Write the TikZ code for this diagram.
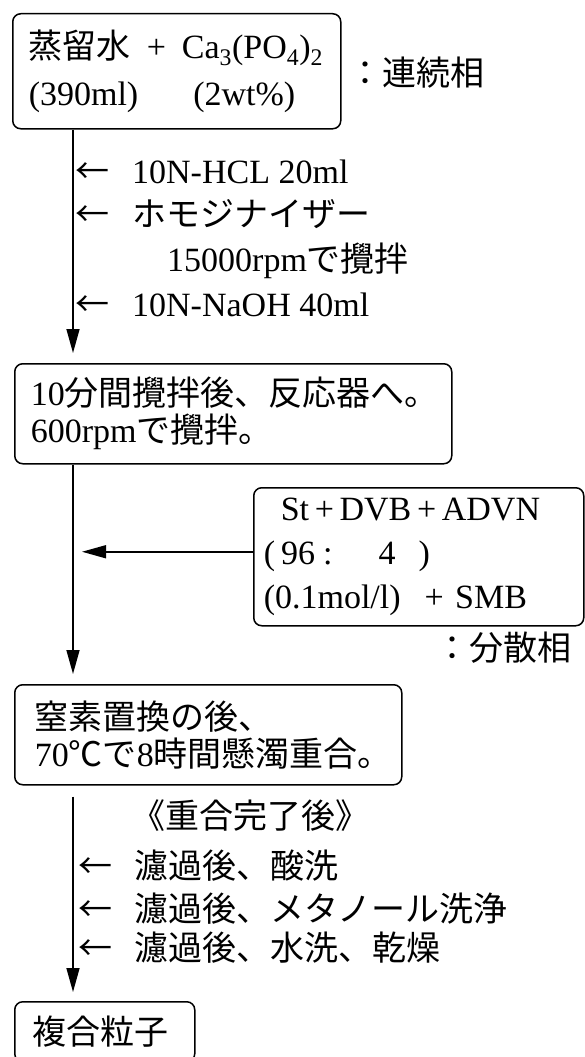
\documentclass[tikz,border=0pt]{standalone}
\usepackage{fontspec}
\setmainfont{Liberation Serif}
\newfontfamily\jpfont{Noto Sans CJK JP}
\newcommand{\jtext}[1]{{\jpfont #1}}
\usepackage{tikz}
\usetikzlibrary{arrows.meta}

\begin{document}
\begin{tikzpicture}[x=1pt, y=-1pt,
    stage/.style={draw=black, line width=1.5pt, rounded corners=8pt,
      anchor=north west, align=left, inner ysep=0pt},
    flow/.style={line width=1.5pt, -{Triangle[length=24pt, width=13pt]}},
    note/.style={anchor=base west, inner sep=0pt, font=\fontsize{34}{40}\selectfont}]
  \useasboundingbox (0,0) rectangle (584,1057);
  \coordinate (spine) at (73,0);

  \node[stage, minimum width=328pt, minimum height=115pt, text width=296pt, inner xsep=16pt,
        font=\fontsize{34}{47}\selectfont] (b1) at (12,13)
    {\mbox{\jtext{蒸留水}\hspace{16pt}+\hspace{16pt}Ca\textsubscript{3}(PO\textsubscript{4})\textsubscript{2}}\\
     \mbox{(390ml)\hspace{55pt}(2wt\%)}};
  \node[note] (cont) at (348,85) {\jtext{：連続相}};

  \node[note] (hcl) at (75,183) {\jtext{←}\hspace{23pt}10N-HCL 20ml};
  \node[note] (homo) at (75,226) {\jtext{←}\hspace{23pt}\jtext{ホモジナイザー}};
  \node[note] (rpm) at (167,271) {15000rpm\jtext{で攪拌}};
  \node[note] (naoh) at (75,316) {\jtext{←}\hspace{23pt}10N-NaOH 40ml};

  \node[stage, minimum width=437pt, minimum height=100pt, text width=405pt, inner xsep=16pt,
        font=\fontsize{34}{37}\selectfont] (b2) at (14,363)
    {10\jtext{分間攪拌後、反応器へ。}\\600rpm\jtext{で攪拌。}};

  \node[stage, minimum width=330pt, minimum height=138pt, text width=310pt, inner xsep=10pt,
        font=\fontsize{34}{44}\selectfont] (b3) at (253,487)
    {\hspace*{17pt}St\,+\,DVB\,+\,ADVN\\
     (\hspace{6pt}96\hspace{8pt}:\hspace{46pt}4\hspace{23pt})\\
     (0.1mol/l)\hspace{24pt}+ SMB};
  \node[note] (disp) at (435,660) {\jtext{：分散相}};

  \node[stage, minimum width=387pt, minimum height=100pt, text width=347pt, inner xsep=20pt,
        font=\fontsize{34}{37}\selectfont] (b4) at (14,684)
    {\jtext{窒素置換の後、}\\70\jtext{℃で}8\jtext{時間懸濁重合。}};

  \node[note] (done) at (131,828) {\jtext{《重合完了後》}};
  \node[note] (acid) at (78,878) {\jtext{←}\hspace{22pt}\jtext{濾過後、酸洗}};
  \node[note] (meoh) at (78,921) {\jtext{←}\hspace{22pt}\jtext{濾過後、メタノール洗浄}};
  \node[note] (dry) at (78,960) {\jtext{←}\hspace{22pt}\jtext{濾過後、水洗、乾燥}};

  \node[stage, minimum width=180pt, minimum height=60pt, text width=144pt, inner xsep=18pt,
        font=\fontsize{34}{40}\selectfont] (b5) at (14,1001)
    {\jtext{複合粒子}};

  \draw[flow, shorten >=10pt] (b1.south -| spine) -- (b2.north -| spine);
  \draw[flow, shorten >=10pt] (b2.south -| spine) -- (b4.north -| spine);
  \draw[flow, shorten >=9pt] ([yshift=5pt]b3.west) -- ([yshift=5pt]b3.west -| spine);
  \draw[flow, shorten <=11pt, shorten >=9pt] (b4.south -| spine) -- (b5.north -| spine);
\end{tikzpicture}
\end{document}
